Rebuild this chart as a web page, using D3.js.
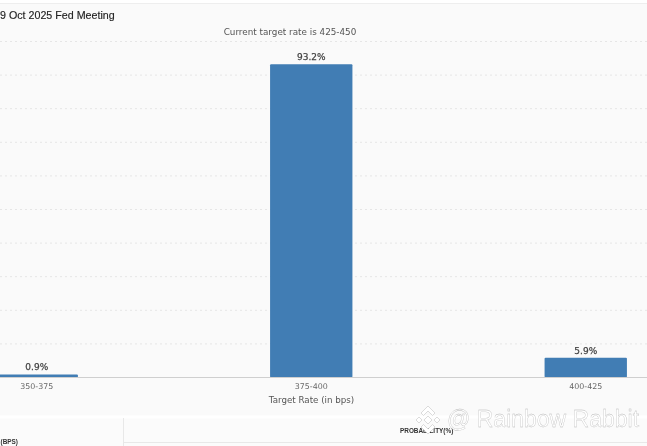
<!DOCTYPE html>
<html>
<head>
<meta charset="utf-8">
<script src="https://cdnjs.cloudflare.com/ajax/libs/d3/7.8.5/d3.min.js"></script>
<style>
  html, body { margin: 0; padding: 0; background: #fafafa; overflow: hidden; }
  svg { display: block; filter: blur(0.35px); }
  .axis-label { font-family: "DejaVu Sans", sans-serif; fill: #555; }
</style>
</head>
<body>
<script>
var categories = ["350-375", "375-400", "400-425"];
var probabilities = [0.9, 93.2, 5.9];
var gridValues = [10, 20, 30, 40, 50, 60, 70, 80, 90, 100];

var width = 647, height = 446;
var baseline = 377.5;

var svg = d3.select("body").append("svg")
    .attr("width", width)
    .attr("height", height);

// band runs off both sides of the picture, the shot is cropped
var x = d3.scaleBand()
    .domain(categories)
    .range([-100.5, 723])
    .paddingInner(0.7)
    .paddingOuter(0.35);

var y = d3.scaleLinear()
    .domain([0, 100])
    .range([baseline, 41.5]);

// top strip and bottom table area
svg.append("rect").attr("x", 0).attr("y", 0).attr("width", width).attr("height", 3).attr("fill", "#fff");
svg.append("line").attr("x1", 0).attr("x2", width).attr("y1", 3.5).attr("y2", 3.5).attr("stroke", "#eeeeee");
svg.append("rect").attr("x", 0).attr("y", 417).attr("width", width).attr("height", 29).attr("fill", "#fbfbfb");
svg.append("line").attr("x1", 0).attr("x2", width).attr("y1", 417).attr("y2", 417).attr("stroke", "#fff").attr("stroke-width", 3);
svg.append("line").attr("x1", 123.5).attr("x2", 123.5).attr("y1", 418).attr("y2", 446).attr("stroke", "#e8e8e8");
svg.append("line").attr("x1", 123).attr("x2", width).attr("y1", 442.5).attr("y2", 442.5).attr("stroke", "#e8e8e8");

svg.selectAll(".grid")
    .data(gridValues)
  .enter().append("line")
    .attr("class", "grid")
    .attr("x1", 0)
    .attr("x2", width)
    .attr("y1", function(d) { return y(d); })
    .attr("y2", function(d) { return y(d); })
    .attr("stroke", "#e6e6e6")
    .attr("stroke-dasharray", "2,3");

svg.selectAll(".bar")
    .data(probabilities)
  .enter().append("rect")
    .attr("class", "bar")
    .attr("x", function(d, i) { return x(categories[i]); })
    .attr("width", x.bandwidth())
    .attr("y", function(d) { return y(d); })
    .attr("height", function(d) { return baseline - y(d); })
    .attr("rx", 1)
    .attr("fill", "#417db4");

svg.selectAll(".bar-label")
    .data(probabilities)
  .enter().append("text")
    .attr("class", "axis-label")
    .attr("x", function(d, i) { return x(categories[i]) + x.bandwidth() / 2; })
    .attr("y", function(d) { return y(d) - 4; })
    .attr("text-anchor", "middle")
    .style("font-size", "9px")
    .style("fill", "#444")
    .style("stroke", "#444")
    .style("stroke-width", "0.25px")
    .text(function(d) { return d + "%"; });

var xAxis = svg.append("g")
    .attr("transform", "translate(0," + baseline + ")")
    .call(d3.axisBottom(x).tickSize(0).tickPadding(6));
xAxis.select(".domain").attr("stroke", "#cfcfcf").attr("d", "M0,0H" + width);
xAxis.selectAll("text")
    .attr("class", "axis-label")
    .style("font-size", "7.9px")
    .style("fill", "#666");

svg.append("text")
    .attr("class", "axis-label")
    .attr("x", 311.5)
    .attr("y", 403)
    .attr("text-anchor", "middle")
    .style("font-size", "8.7px")
    .text("Target Rate (in bps)");

svg.append("text")
    .attr("class", "axis-label")
    .attr("x", 290)
    .attr("y", 35)
    .attr("text-anchor", "middle")
    .style("font-size", "8.8px")
    .text("Current target rate is 425-450");

svg.append("text")
    .attr("x", 0)
    .attr("y", 19)
    .style("font-family", "'Liberation Sans', sans-serif")
    .style("font-size", "10.7px")
    .style("fill", "#222")
    .style("stroke", "#222")
    .style("stroke-width", "0.15px")
    .text("9 Oct 2025 Fed Meeting");

// table headers below the chart
svg.append("text")
    .attr("x", 0.5)
    .attr("y", 444)
    .style("font-family", "'Liberation Sans', sans-serif")
    .style("font-size", "6.4px")
    .style("font-weight", "bold")
    .style("fill", "#333")
    .text("(BPS)");

svg.append("text")
    .attr("x", 400)
    .attr("y", 433)
    .style("font-family", "'Liberation Sans', sans-serif")
    .style("font-size", "6.4px")
    .style("font-weight", "bold")
    .style("fill", "#333")
    .text("PROBABILITY(%)");

// watermark, logo then text
var logo = svg.append("g")
    .attr("transform", "translate(428,420)")
    .attr("fill", "#fff")
    .attr("stroke", "#c4c4c4")
    .attr("stroke-width", 0.6);
logo.append("path").attr("d", "M0,-4L4,0L0,4L-4,0Z");
logo.append("path").attr("d", "M0,-14L7,-7L4.5,-4.5L0,-9L-4.5,-4.5L-7,-7Z");
logo.append("path").attr("d", "M0,14L7,7L4.5,4.5L0,9L-4.5,4.5L-7,7Z");
logo.append("path").attr("d", "M-9,-3L-6,0L-9,3L-12,0Z");
logo.append("path").attr("d", "M9,-3L12,0L9,3L6,0Z");

svg.append("text")
    .attr("x", 447)
    .attr("y", 427)
    .style("font-family", "'Liberation Sans', sans-serif")
    .style("font-size", "23px")
    .style("fill", "#fff")
    .style("stroke", "#b5b5b5")
    .style("stroke-width", "0.3px")
    .text("@ Rainbow Rabbit");
</script>
</body>
</html>
